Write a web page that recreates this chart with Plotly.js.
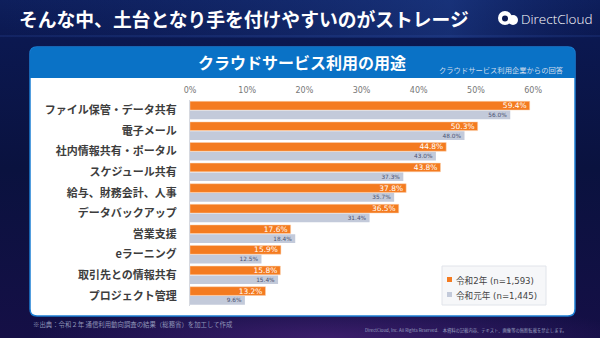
<!DOCTYPE html>
<html><head><meta charset="utf-8">
<script src="https://cdn.plot.ly/plotly-3.0.1.min.js"></script>
<style>html,body{margin:0;padding:0;background:#0b1240;}#chart{width:600px;height:338px;}</style>
</head><body><div id="chart"></div>
<script>
// ---- data ----
const categories = ['ファイル保管・データ共有','電子メール','社内情報共有・ポータル','スケジュール共有','給与、財務会計、人事','データバックアップ','営業支援','eラーニング','取引先との情報共有','プロジェクト管理'];
const reiwa2 = [59.4, 50.3, 44.8, 43.8, 37.8, 36.5, 17.6, 15.9, 15.8, 13.2];
const reiwa1 = [56.0, 48.0, 43.0, 37.3, 35.7, 31.4, 18.4, 12.5, 15.4, 9.6];
const seriesNames = ['令和2年 (n=1,593)', '令和元年 (n=1,445)'];
const tickVals = [0, 10, 20, 30, 40, 50, 60];
const tickText = ['0%', '10%', '20%', '30%', '40%', '50%', '60%'];

// ---- layout helpers (pixel -> paper) ----
const W = 600, H = 338;
const M = {l: 190, r: 44, t: 100, b: 32};
const PW = W - M.l - M.r, PH = H - M.t - M.b;
const px = x => (x - M.l) / PW;
const py = y => (H - M.b - y) / PH;
const JP = '"Noto Sans CJK JP", "Noto Sans", sans-serif';
const ORANGE = '#f47b20', GRAY = '#c3cada';

function roundRectPath(x0, y0, x1, y1, r, roundBottom) {
  const P = (x, y) => px(x) + ',' + py(y);
  let d = 'M' + P(x0, y0 + r) + ' Q' + P(x0, y0) + ' ' + P(x0 + r, y0) +
          ' L' + P(x1 - r, y0) + ' Q' + P(x1, y0) + ' ' + P(x1, y0 + r);
  if (roundBottom) {
    d += ' L' + P(x1, y1 - r) + ' Q' + P(x1, y1) + ' ' + P(x1 - r, y1) +
         ' L' + P(x0 + r, y1) + ' Q' + P(x0, y1) + ' ' + P(x0, y1 - r) + ' Z';
  } else {
    d += ' L' + P(x1, y1) + ' L' + P(x0, y1) + ' Z';
  }
  return d;
}

const bgSvg = `<svg xmlns="http://www.w3.org/2000/svg" width="600" height="338">
<defs>
<linearGradient id="g" x1="0" y1="0" x2="0" y2="1">
<stop offset="0" stop-color="#0e1f5c"/><stop offset="0.12" stop-color="#0b1850"/>
<stop offset="0.5" stop-color="#0a123f"/><stop offset="1" stop-color="#150f46"/></linearGradient>
<radialGradient id="p" cx="0.55" cy="1" r="0.5"><stop offset="0" stop-color="#5b2a8a" stop-opacity="0.55"/><stop offset="1" stop-color="#5b2a8a" stop-opacity="0"/></radialGradient>
<linearGradient id="t" x1="0" y1="0" x2="1" y2="0"><stop offset="0" stop-color="#1b3a8a" stop-opacity="0"/><stop offset="0.75" stop-color="#2a55b0" stop-opacity="0.35"/><stop offset="1" stop-color="#1b3a8a" stop-opacity="0"/></linearGradient>
</defs>
<rect width="600" height="338" fill="url(#g)"/>
<rect y="260" width="600" height="78" fill="url(#p)"/>
<rect y="0" width="600" height="38" fill="url(#t)"/>
<line x1="0" y1="36" x2="600" y2="36" stroke="#3a5fb8" stroke-opacity="0.35" stroke-width="1"/>
</svg>`;
const bgURI = 'data:image/svg+xml;charset=utf-8,' + encodeURIComponent(bgSvg);

const traces = [
  {type: 'bar', orientation: 'h', name: seriesNames[0], y: categories, x: reiwa2,
   marker: {color: ORANGE, line: {color: '#fbd2b0', width: 0.5}},
   text: reiwa2.map(v => v.toFixed(1) + '%'), textposition: 'inside', insidetextanchor: 'end',
   textfont: {family: 'DejaVu Sans', size: 7.5, color: '#ffffff'}, constraintext: 'none',
   hoverinfo: 'x+name', showlegend: false},
  {type: 'bar', orientation: 'h', name: seriesNames[1], y: categories, x: reiwa1,
   marker: {color: GRAY},
   text: reiwa1.map(v => v.toFixed(1) + '%'), textposition: 'inside', insidetextanchor: 'end',
   textfont: {family: 'DejaVu Sans', size: 5.8, color: '#4a5272'}, constraintext: 'none',
   hoverinfo: 'x+name', showlegend: false}
];

const shapes = [
  // panel
  {type: 'path', xref: 'paper', yref: 'paper', layer: 'below', path: roundRectPath(30, 47, 575, 316, 7, true),
   fillcolor: '#ffffff', line: {color: '#1d7fd4', width: 1.5}},
  {type: 'path', xref: 'paper', yref: 'paper', layer: 'below', path: roundRectPath(30, 47, 575, 78, 7, false),
   fillcolor: '#0a72c6', line: {width: 0}},
  // legend box
  {type: 'rect', xref: 'paper', yref: 'paper', layer: 'above', x0: px(442), x1: px(546), y0: py(266), y1: py(305),
   fillcolor: '#f6f7f9', line: {color: '#e1e4ea', width: 1}},
  {type: 'rect', xref: 'paper', yref: 'paper', layer: 'above', x0: px(447), x1: px(452), y0: py(277), y1: py(282),
   fillcolor: ORANGE, line: {width: 0}},
  {type: 'rect', xref: 'paper', yref: 'paper', layer: 'above', x0: px(447), x1: px(452), y0: py(292), y1: py(297),
   fillcolor: GRAY, line: {width: 0}},
  // logo icon
  {type: 'circle', xref: 'paper', yref: 'paper', x0: px(498), x1: px(512), y0: py(11), y1: py(25),
   fillcolor: '#ffffff', line: {width: 0}},
  {type: 'circle', xref: 'paper', yref: 'paper', x0: px(508), x1: px(518), y0: py(15), y1: py(25),
   fillcolor: '#ffffff', line: {width: 0}},
  {type: 'circle', xref: 'paper', yref: 'paper', x0: px(502), x1: px(508), y0: py(15.5), y1: py(21.5),
   fillcolor: '#0c1a52', line: {width: 0}}
];

const ann = (text, x, y, size, color, anchor, extra) => Object.assign({
  text: text, xref: 'paper', yref: 'paper', x: px(x), y: py(y), xanchor: anchor || 'left', yanchor: 'middle',
  showarrow: false, font: {family: JP, size: size, color: color}
}, extra || {});

const annotations = [
  ann('そんな中、土台となり手を付けやすいのがストレージ', 17, 19, 18.8, '#ffffff', 'left', {font: {family: JP, size: 18.8, color: '#ffffff', weight: 'bold'}}),
  ann('DirectCloud', 519, 19, 13.5, '#ffffff', 'left', {font: {family: 'Open Sans, Lato, sans-serif', size: 13.5, color: '#ffffff', weight: 300}}),
  ann('クラウドサービス利用の用途', 302, 62, 16, '#ffffff', 'center', {font: {family: JP, size: 16, color: '#ffffff', weight: 'bold'}}),
  ann('クラウドサービス利用企業からの回答', 566, 70, 7.3, '#cfdcec', 'right'),
  ann(seriesNames[0], 454, 280, 9, '#444444', 'left', {font: {family: 'DejaVu Sans, ' + JP, size: 8.6, color: '#444444'}}),
  ann(seriesNames[1], 454, 295, 9, '#444444', 'left', {font: {family: 'DejaVu Sans, ' + JP, size: 8.6, color: '#444444'}}),
  ann('※出典：令和２年 通信利用動向調査の結果（総務省）を加工して作成', 31, 324, 6.4, '#8f95b8', 'left'),
  ann('DirectCloud, Inc. All Rights Reserved.　本資料の記載内容、テキスト、画像等の無断転載を禁止します。', 569, 330, 4.3, '#9aa0c0', 'right')
];

const layout = {
  width: W, height: H,
  margin: M,
  paper_bgcolor: '#0b1240', plot_bgcolor: 'rgba(0,0,0,0)',
  barmode: 'group', bargap: 0.1, bargroupgap: 0.06,
  showlegend: false,
  xaxis: {range: [0, 64], side: 'top', tickvals: tickVals, ticktext: tickText,
          showgrid: false, zeroline: false, showline: false, ticks: '', ticklabelstandoff: 4,
          tickfont: {family: 'DejaVu Sans', size: 8, color: '#777777'}, fixedrange: true},
  yaxis: {autorange: 'reversed', type: 'category', showgrid: false, zeroline: false,
          showline: true, linecolor: '#d6d9e0', linewidth: 1, ticks: '', ticklabelstandoff: 10,
          tickfont: {family: JP, size: 11, color: '#3d3d3d', weight: 'bold'}, fixedrange: true},
  images: [{source: bgURI, xref: 'paper', yref: 'paper', x: px(0), y: py(0), sizex: W / PW, sizey: H / PH,
            xanchor: 'left', yanchor: 'top', sizing: 'stretch', layer: 'below'}],
  shapes: shapes,
  annotations: annotations
};

Plotly.newPlot('chart', traces, layout, {displayModeBar: false, staticPlot: true});
</script>
</body></html>
